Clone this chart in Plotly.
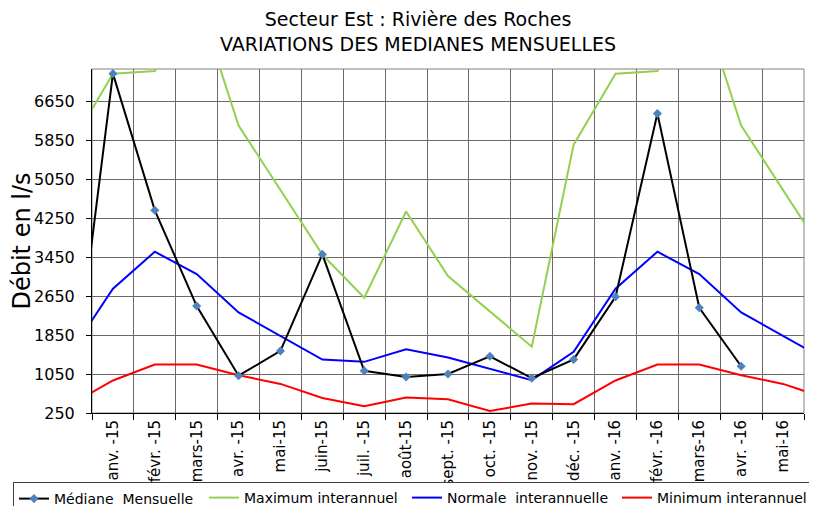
import plotly.graph_objects as go

# Categories (déc. -14 and juin-16 lie just outside the visible range)
mois = ["déc. -14", "janv. -15", "févr. -15", "mars-15", "avr. -15", "mai-15", "juin-15",
        "juil. -15", "août-15", "sept. -15", "oct. -15", "nov. -15", "déc. -15",
        "janv. -16", "févr. -16", "mars-16", "avr. -16", "mai-16", "juin-16"]

mediane = [360, 7215, 4410, 2445, 1015, 1525, 3505, 1115, 990, 1050, 1415, 965, 1350,
           2635, 6395, 2410, 1210, None, None]
maximum = [5757, 7215, 7270, 8800, 6150, 4830, 3500, 2615, 4385, 3060, 2330, 1610, 5757,
           7215, 7270, 8800, 6150, 4830, 3500]
normale = [1505, 2800, 3560, 3100, 2315, 1835, 1348, 1300, 1560, 1390, 1155, 925, 1505,
           2800, 3560, 3100, 2315, 1835, 1348]
minimum = [430, 917, 1246, 1246, 1026, 847, 559, 388, 567, 532, 291, 443, 430,
           917, 1246, 1246, 1026, 847, 559]

y_ticks = [250, 1050, 1850, 2650, 3450, 4250, 5050, 5850, 6650]

FONT = "DejaVu Sans, Verdana, sans-serif"
W, H = 809, 498  # page body has an 8px margin
ML, MR, MT, MB = 84, 13, 61, 93

fig = go.Figure()
fig.add_trace(go.Scatter(x=mois, y=maximum, mode="lines", name="Maximum interannuel",
                         line=dict(color="#92D050", width=2), legend="legend2"))
fig.add_trace(go.Scatter(x=mois, y=normale, mode="lines", name="Normale\u00a0 interannuelle",
                         line=dict(color="#0000FF", width=2), legend="legend3"))
fig.add_trace(go.Scatter(x=mois, y=minimum, mode="lines", name="Minimum interannuel",
                         line=dict(color="#FF0000", width=2), legend="legend4"))
fig.add_trace(go.Scatter(x=mois, y=mediane, mode="lines+markers", name="Médiane\u00a0 Mensuelle",
                         line=dict(color="#000000", width=2),
                         marker=dict(symbol="diamond", size=7, color="#4F81BD"),
                         legend="legend"))


def leg(xpx, box=False):
    d = dict(orientation="h", x=xpx / W, xanchor="left", xref="container",
             y=1 - 474 / H, yanchor="top", yref="container",
             borderwidth=0, bgcolor="rgba(0,0,0,0)",
             font=dict(size=14, family=FONT, color="#000000"))
    if box:
        d.update(borderwidth=1, bordercolor="#404040", bgcolor="white",
                 entrywidth=790, entrywidthmode="pixels")
    return d


fig.update_layout(
    width=W, height=H,
    margin=dict(l=ML, r=MR, t=MT, b=MB, autoexpand=False),
    paper_bgcolor="white", plot_bgcolor="white",
    font=dict(family=FONT, color="#000000"),
    title=dict(text="Secteur Est : Rivière des Roches<br>VARIATIONS DES MEDIANES MENSUELLES",
               x=410/W, xanchor="center", xref="container",
               y=1 - 18/H, yanchor="middle", yref="container",
               font=dict(size=19, family=FONT, color="#000000")),
    showlegend=True,
    legend=leg(5, box=True), legend2=leg(196), legend3=leg(399), legend4=leg(609),
    shapes=[
        dict(type="rect", xref="paper", yref="paper", x0=0, x1=1, y0=0, y1=1,
             line=dict(color="#808080", width=1), layer="below"),
    ],
)

fig.update_xaxes(
    type="category", range=[0.5, 17.5], tickson="boundaries",
    tickangle=-90, tickfont=dict(size=15, family=FONT, color="#000000"),
    showgrid=True, gridcolor="#6a6a6a", gridwidth=1,
    showline=True, linecolor="#000000", linewidth=1,
    ticks="outside", ticklen=6, tickcolor="#000000", automargin=False,
)
fig.update_yaxes(
    range=[250, 7310], tickmode="array", tickvals=y_ticks,
    tickfont=dict(size=16, family=FONT, color="#000000"),
    showgrid=True, gridcolor="#6a6a6a", gridwidth=1,
    showline=True, linecolor="#000000", linewidth=1,
    ticks="outside", ticklen=5, tickcolor="#000000", zeroline=False,
    ticklabelstandoff=8, automargin=False,
    title=dict(text="Débit en l/s", font=dict(size=24, family=FONT, color="#000000"), standoff=4),
)

fig.write_html("out.html")
